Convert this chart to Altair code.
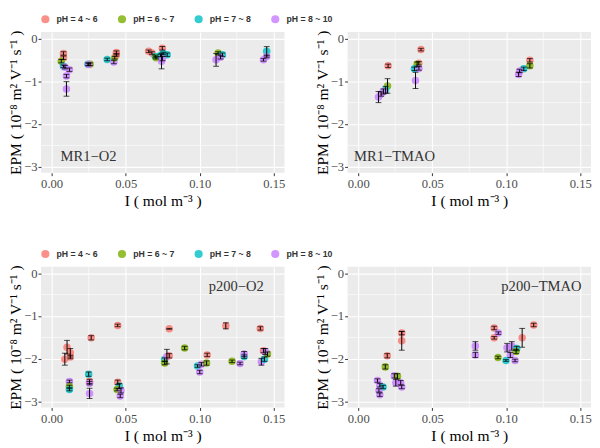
import altair as alt
import pandas as pd

GROUPS = ["pH = 4 ~ 6", "pH = 6 ~ 7", "pH = 7 ~ 8", "pH = 8 ~ 10"]
COLORS = ["#F8766D", "#7CAE00", "#00BFC4", "#C77CFF"]

X_MAJOR = [0.0, 0.05, 0.10, 0.15]
X_MINOR = [0.025, 0.075, 0.125]
Y_MAJOR = [0, -1, -2, -3]
Y_MINOR = [-0.5, -1.5, -2.5]

# Panel 1: MR1-O2
p1_x = [0.008, 0.008, 0.0065, 0.008, 0.009, 0.012, 0.010, 0.010, 0.0245, 0.026, 0.025,
        0.0375, 0.042, 0.0426, 0.0437, 0.0437, 0.0655, 0.0677, 0.070, 0.0705, 0.0747,
        0.0753, 0.078, 0.0735, 0.0742, 0.0748, 0.1124, 0.111, 0.1153, 0.114, 0.1452,
        0.143, 0.1452]
p1_y = [-0.35, -0.45, -0.53, -0.65, -0.67, -0.73, -0.88, -1.18, -0.60, -0.60, -0.61,
        -0.49, -0.55, -0.45, -0.33, -0.38, -0.30, -0.34, -0.42, -0.45, -0.23,
        -0.35, -0.38, -0.40, -0.53, -0.47, -0.34, -0.50, -0.38, -0.44, -0.30,
        -0.50, -0.42]
p1_e = [0.04, 0.04, 0.04, 0.03, 0.04, 0.04, 0.04, 0.17, 0.03, 0.03, 0.03,
        0.03, 0.04, 0.03, 0.04, 0.03, 0.03, 0.03, 0.03, 0.03, 0.04,
        0.03, 0.04, 0.03, 0.18, 0.05, 0.03, 0.15, 0.04, 0.04, 0.11,
        0.03, 0.03]
p1_g = [1, 1, 2, 3, 4, 4, 4, 4, 3, 2, 4,
        3, 4, 2, 1, 1, 1, 1, 3, 2, 1,
        3, 3, 3, 4, 4, 2, 4, 3, 4, 3,
        4, 4]

# Panel 2: MR1-TMAO
p2_x = [0.0202, 0.0198, 0.0185, 0.017, 0.0155, 0.0137, 0.0424, 0.0409, 0.0398, 0.038,
        0.041, 0.0387, 0.1159, 0.1159, 0.1118, 0.1083, 0.109]
p2_y = [-0.64, -1.11, -1.20, -1.24, -1.30, -1.37, -0.26, -0.58, -0.60, -0.71,
        -0.70, -0.98, -0.51, -0.64, -0.71, -0.84, -0.76]
p2_e = [0.04, 0.17, 0.08, 0.06, 0.05, 0.13, 0.03, 0.04, 0.05, 0.04,
        0.04, 0.19, 0.04, 0.05, 0.04, 0.05, 0.04]
p2_g = [1, 2, 3, 4, 4, 4, 1, 1, 2, 3,
        4, 4, 1, 2, 3, 4, 4]

# Panel 3: p200-O2
p3_x = [0.0104, 0.0126, 0.0126, 0.0089, 0.012, 0.012, 0.012, 0.0267, 0.025, 0.0256,
        0.0256, 0.0256, 0.0446, 0.0446, 0.0457, 0.0442, 0.0468, 0.0463, 0.0794, 0.0763,
        0.0763, 0.0778, 0.0794, 0.0898, 0.0985, 0.1011, 0.100, 0.1046, 0.105, 0.1176,
        0.1218, 0.1272, 0.130, 0.130, 0.1409, 0.1416, 0.1437, 0.143, 0.1457, 0.1442]
p3_y = [-1.73, -1.86, -1.96, -2.01, -2.53, -2.65, -2.72, -1.51, -2.36, -2.53,
        -2.57, -2.81, -1.22, -2.55, -2.64, -2.72, -2.74, -2.87, -1.30, -2.02,
        -2.10, -1.95, -1.93, -1.75, -2.17, -2.13, -2.31, -2.10, -1.91, -1.23,
        -2.06, -2.11, -1.95, -1.89, -1.29, -2.07, -2.01, -1.81, -1.89, -1.83]
p3_e = [0.16, 0.10, 0.04, 0.14, 0.03, 0.03, 0.03, 0.05, 0.05, 0.05,
        0.04, 0.12, 0.03, 0.05, 0.06, 0.03, 0.06, 0.04, 0.01, 0.04,
        0.04, 0.17, 0.05, 0.04, 0.03, 0.04, 0.04, 0.05, 0.04, 0.07,
        0.03, 0.03, 0.04, 0.06, 0.04, 0.08, 0.05, 0.05, 0.05, 0.07]
p3_g = [1, 1, 1, 1, 4, 2, 3, 1, 3, 1,
        4, 4, 1, 1, 3, 2, 4, 4, 1, 3,
        2, 4, 1, 2, 3, 4, 4, 2, 1, 1,
        2, 4, 3, 4, 1, 4, 3, 1, 2, 4]

# Panel 4: p200-TMAO
p4_x = [0.0294, 0.0294, 0.0196, 0.0183, 0.013, 0.0146, 0.0168, 0.014, 0.0146, 0.0244,
        0.0265, 0.0254, 0.0287, 0.0294, 0.0791, 0.0791, 0.0918, 0.0918, 0.0946, 0.0944,
        0.0998, 0.1005, 0.1037, 0.1027, 0.1059, 0.107, 0.1066, 0.1107, 0.1185]
p4_y = [-1.40, -1.58, -1.93, -2.19, -2.51, -2.62, -2.66, -2.74, -2.84, -2.40,
        -2.41, -2.56, -2.56, -2.66, -1.70, -1.91, -1.28, -1.51, -1.40, -1.97,
        -2.04, -1.74, -1.70, -1.91, -2.04, -1.76, -1.83, -1.51, -1.21]
p4_e = [0.04, 0.22, 0.05, 0.05, 0.04, 0.04, 0.04, 0.04, 0.04, 0.05,
        0.06, 0.08, 0.05, 0.04, 0.10, 0.06, 0.04, 0.03, 0.03, 0.03,
        0.02, 0.10, 0.10, 0.06, 0.03, 0.05, 0.05, 0.22, 0.04]
p4_g = [1, 1, 1, 2, 4, 4, 3, 4, 4, 4,
        2, 4, 4, 4, 4, 4, 1, 1, 4, 2,
        3, 4, 4, 4, 4, 3, 2, 1, 1]

LABELS = ["MR1\u2212O2", "MR1\u2212TMAO", "p200\u2212O2", "p200\u2212TMAO"]
LABEL_X = [0.0249, 0.0245, 0.1246, 0.1237]
LABEL_Y = [-2.75, -2.75, -0.31, -0.31]

XSC = alt.Scale(domain=[-0.0072, 0.1572], nice=False, zero=False)
YSC = alt.Scale(domain=[-3.14, 0.15], nice=False, zero=False)
AXSTYLE = dict(
    labelFont="Liberation Serif", labelFontSize=13, labelColor="#4D4D4D",
    titleFont="Liberation Serif", titleFontSize=16, titleFontWeight="normal",
    titleColor="black", tickColor="#333333", tickSize=3, domain=False,
    grid=True, gridColor="white", gridWidth=1.1,
)
XAX = alt.Axis(values=X_MAJOR, format=".2f", title="I ( mol m\u207b\u00b3 )",
               labelPadding=2, titlePadding=3, **AXSTYLE)
YAX = alt.Axis(values=Y_MAJOR, format="d",
               title="EPM ( 10\u207b\u2078 m\u00b2 V\u207b\u00b9 s\u207b\u00b9 )",
               labelPadding=1, titlePadding=0, **AXSTYLE)


def panel(xs, ys, es, gs, k):
    df = pd.DataFrame({
        "x": xs,
        "y": ys,
        "lo": [y - e for y, e in zip(ys, es)],
        "hi": [y + e for y, e in zip(ys, es)],
        "g": [GROUPS[g - 1] for g in gs],
    })
    vgrid = alt.Chart(pd.DataFrame({"v": X_MINOR})).mark_rule(
        color="white", strokeWidth=0.6
    ).encode(x=alt.X("v:Q", scale=XSC, axis=XAX))
    hgrid = alt.Chart(pd.DataFrame({"v": Y_MINOR})).mark_rule(
        color="white", strokeWidth=0.6
    ).encode(y=alt.Y("v:Q", scale=YSC, axis=YAX))
    pts = alt.Chart(df).mark_circle(size=60, opacity=0.8).encode(
        x=alt.X("x:Q", scale=XSC, axis=XAX),
        y=alt.Y("y:Q", scale=YSC, axis=YAX),
        color=alt.Color(
            "g:N",
            scale=alt.Scale(domain=GROUPS, range=COLORS),
            legend=alt.Legend(
                orient="top", direction="horizontal", title=None,
                labelFont="Liberation Sans", labelFontSize=9, labelFontWeight="bold",
                labelColor="#333333", symbolType="circle", symbolSize=70,
                symbolOpacity=0.8, columnPadding=20, offset=6, padding=0,
                symbolStrokeWidth=0, labelOffset=7,
            ),
        ),
    )
    bars = alt.Chart(df).mark_errorbar(
        color="black", thickness=1, ticks={"size": 6, "color": "black"}
    ).encode(
        x=alt.X("x:Q", scale=XSC, axis=XAX),
        y=alt.Y("lo:Q", scale=YSC, axis=YAX),
        y2="hi:Q",
    )
    lab = alt.Chart(pd.DataFrame({"t": [LABELS[k]], "lx": [LABEL_X[k]], "ly": [LABEL_Y[k]]})).mark_text(
        font="Liberation Serif", fontSize=15, color="#333333"
    ).encode(
        x=alt.X("lx:Q", scale=XSC, axis=XAX),
        y=alt.Y("ly:Q", scale=YSC, axis=YAX),
        text="t:N",
    )
    return alt.layer(vgrid, hgrid, pts, bars, lab).properties(width=251, height=145)


top = alt.hconcat(panel(p1_x, p1_y, p1_e, p1_g, 0), panel(p2_x, p2_y, p2_e, p2_g, 1), spacing=30)
bot = alt.hconcat(panel(p3_x, p3_y, p3_e, p3_g, 2), panel(p4_x, p4_y, p4_e, p4_g, 3), spacing=30)

chart = alt.vconcat(top, bot, spacing=42).resolve_legend(color="independent").properties(
    padding=0, background="white"
).configure_view(
    fill="#EBEBEB", stroke=None
)

chart.save("out.html", embed_options={"renderer": "svg", "actions": False})
